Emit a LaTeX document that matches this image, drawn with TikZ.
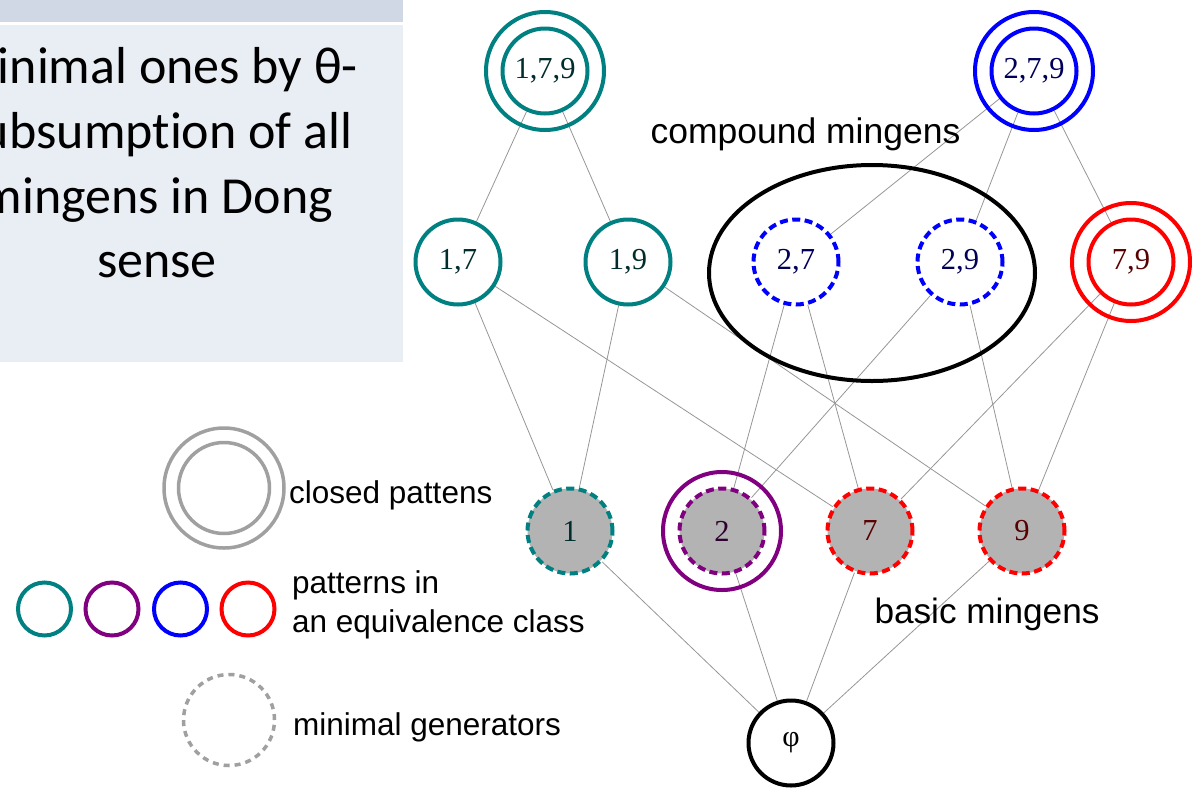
\documentclass[tikz,border=0pt]{standalone}
\usepackage{fontspec}
\setmainfont{Liberation Serif}
\newfontfamily\calfont[Ligatures=NoCommon]{Carlito}
\newfontfamily\arialfont{Liberation Sans}
\usetikzlibrary{shapes.geometric,backgrounds}
\definecolor{cteal}{RGB}{0,128,128}
\definecolor{cpurp}{RGB}{128,0,128}
\definecolor{cblue}{RGB}{0,0,255}
\definecolor{cred}{RGB}{255,0,0}
\definecolor{cgrayfill}{RGB}{179,179,179}
\definecolor{clegend}{RGB}{160,160,160}
\definecolor{cedge}{RGB}{150,150,150}
\definecolor{boxfill}{RGB}{233,237,244}
\definecolor{stripfill}{RGB}{208,215,229}
\begin{document}
\begin{tikzpicture}[x=1pt,y=-1pt,
  pat/.style={circle,draw=#1,line width=4pt,minimum size=85pt,inner sep=0pt,
    font=\fontsize{30.5}{30}\selectfont,text=#1!35!black,fill=white},
  ring/.style={circle,draw=#1,line width=4pt,minimum size=118pt,inner sep=0pt},
  mg/.style={pat=#1,dash pattern=on 8pt off 4.5pt,fill=cgrayfill},
  cmg/.style={pat=#1,dash pattern=on 8pt off 4.5pt},
  edge/.style={draw=cedge,line width=0.8pt},
  lbl/.style={font=\arialfont\fontsize{31.5}{39}\selectfont,inner sep=0pt,anchor=base west},
  boxtxt/.style={font=\calfont\fontsize{52}{64}\selectfont,inner sep=0pt,anchor=base},
  legcirc/.style={circle,draw=#1,line width=4pt,minimum size=53pt,inner sep=0pt}]
\useasboundingbox (0,0) rectangle (1192,788);
\clip (0,0) rectangle (1192,788);
% text panel
\fill[stripfill] (0,0) rectangle (403,22);
\fill[boxfill] (0,25) rectangle (403,362);
\node[boxtxt] (b1) at (157,83) {minimal ones by θ-};
\node[boxtxt] (b2) at (157,148) {subsumption of all};
\node[boxtxt] (b3) at (157,213) {mingens in Dong};
\node[boxtxt] (b4) at (157,277) {sense};
% lattice nodes
\node[pat=cteal] (n179) at (545,71) {1,7,9};
\node[ring=cteal] (n179o) at (545,71) {};
\node[pat=cblue] (n279) at (1034,71) {2,7,9};
\node[ring=cblue] (n279o) at (1034,71) {};
\node[ellipse,draw=black,line width=4pt,minimum width=326pt,minimum height=216pt,inner sep=0pt] (ell) at (872,273) {};
\node[pat=cteal] (n17) at (458,262) {1,7};
\node[pat=cteal] (n19) at (628,262) {1,9};
\node[cmg=cblue] (n27) at (796,262) {2,7};
\node[cmg=cblue] (n29) at (960,262) {2,9};
\node[pat=cred] (n79) at (1131,262) {7,9};
\node[ring=cred] (n79o) at (1131,262) {};
\node[mg=cteal] (n1) at (570,531) {1};
\node[mg=cpurp] (n2) at (722,531) {2};
\node[ring=cpurp] (n2o) at (722,531) {};
\node[mg=cred] (n7) at (870,531) {7};
\node[mg=cred] (n9) at (1022,531) {9};
\node[pat=black,font=\fontsize{30}{30}\selectfont] (phi) at (791,743) {φ};
% labels
\node[font=\arialfont\fontsize{35.5}{36}\selectfont,anchor=base,inner sep=0pt] (tcomp) at (805.5,143) {compound mingens};
\node[font=\arialfont\fontsize{35.2}{36}\selectfont,anchor=base,inner sep=0pt] (tbasic) at (987,623) {basic mingens};
% edges
\begin{pgfonlayer}{background}
\draw[edge] (n179) -- (n17);
\draw[edge] (n179) -- (n19);
\draw[edge] (n279) -- (n27);
\draw[edge] (n279) -- (n29);
\draw[edge] (n279) -- (n79);
\draw[edge] (n17) -- (n1);
\draw[edge] (n17) -- (n7);
\draw[edge] (n19) -- (n1);
\draw[edge] (n19) -- (n9);
\draw[edge] (n27) -- (n2);
\draw[edge] (n27) -- (n7);
\draw[edge] (n29) -- (n2);
\draw[edge] (n29) -- (n9);
\draw[edge] (n79) -- (n7);
\draw[edge] (n79) -- (n9);
\draw[edge] (n1) -- (phi);
\draw[edge] (n2) -- (phi);
\draw[edge] (n7) -- (phi);
\draw[edge] (n9) -- (phi);
\end{pgfonlayer}
% legend
\node[circle,draw=clegend,line width=3.5pt,minimum size=120pt,inner sep=0pt] (lgo) at (224,488) {};
\node[circle,draw=clegend,line width=3.5pt,minimum size=91pt,inner sep=0pt] (lgi) at (224,488) {};
\node[lbl] (lclosed) at (289,503) {closed pattens};
\node[legcirc=cteal] (lc1) at (44.5,609) {};
\node[legcirc=cpurp] (lc2) at (112,609) {};
\node[legcirc=cblue] (lc3) at (180.5,609) {};
\node[legcirc=cred] (lc4) at (248,609) {};
\node[lbl] (lpat1) at (292,593) {patterns in};
\node[lbl] (lpat2) at (292,632) {an equivalence class};
\node[circle,draw=clegend,line width=3.5pt,dash pattern=on 6pt off 5pt,minimum size=91pt,inner sep=0pt] (lmg) at (229,720) {};
\node[lbl] (lmin) at (293,735) {minimal generators};
\end{tikzpicture}
\end{document}
